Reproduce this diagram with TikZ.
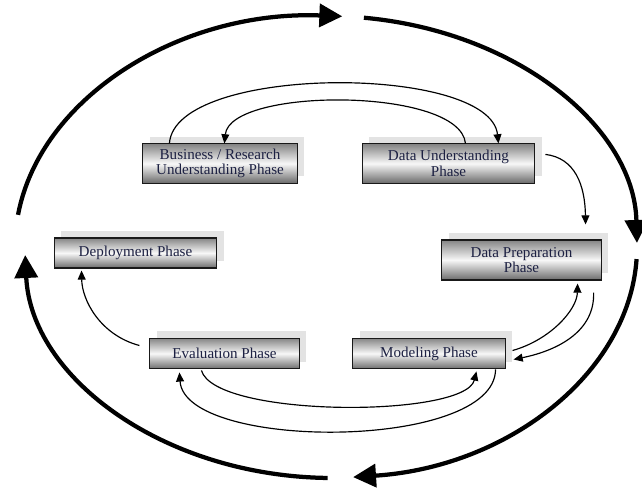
\documentclass[tikz,border=0pt]{standalone}
\usepackage{fontspec}
\setmainfont{Liberation Serif}
\usetikzlibrary{positioning,arrows.meta,calc,shadows}

\definecolor{phasetext}{RGB}{28,32,66}

\tikzset{
  phase/.style={draw=black!90, line width=0.7pt, top color=black!48, bottom color=black!58,
    middle color=black!3, text=phasetext, align=center, inner sep=0pt,
    font=\fontsize{10.3}{10.6}\selectfont,
    drop shadow={shadow xshift=0.17cm, shadow yshift=0.17cm, fill=black!11, opacity=1}},
  bigloop/.style={line width=2.9pt, -{Triangle[length=0.55cm,width=0.55cm]}},
  flow/.style={line width=0.8pt, -{Triangle[length=0.22cm,width=0.19cm]}}
}

\begin{document}
\begin{tikzpicture}[x=0.024cm, y=-0.024cm]
      \useasboundingbox (0,0) rectangle (642,491);
      \coordinate (hub) at (326,247);
      \coordinate (lowhub) at (333,247);
      % the six phases
      \draw (220,163.5) node[phase, minimum width=3.70cm, minimum height=0.94cm] (business) {Business / Research\\Understanding Phase};
      \draw (448.5,163.5) node[phase, minimum width=4.15cm, minimum height=0.94cm] (dataund) {Data Understanding\\Phase};
      \draw (135.5,253) node[phase, minimum width=3.91cm, minimum height=0.72cm] (deploy) {Deployment Phase};
      \draw (521.5,260) node[phase, minimum width=3.82cm, minimum height=0.96cm] (dataprep) {Data Preparation\\Phase};
      \draw (224.5,353.5) node[phase, minimum width=3.58cm, minimum height=0.74cm] (evaluation) {Evaluation Phase};
      \draw (429,353.5) node[phase, minimum width=3.65cm, minimum height=0.74cm] (modeling) {Modeling Phase};
      % outer cycle
      \draw[bigloop] ([shift={(-172:311 and 231)}]hub) arc[start angle=-172, end angle=-87, x radius=311, y radius=231];
      \draw[bigloop] ([shift={(-83:311 and 231)}]hub) arc[start angle=-83, end angle=-1, x radius=311, y radius=231];
      \draw[bigloop] ([shift={(3:311 and 231)}]hub) arc[start angle=3, end angle=85, x radius=311, y radius=231];
      \draw[bigloop] ([shift={(91:308 and 231)}]lowhub) arc[start angle=91, end angle=178, x radius=308, y radius=231];
      % inner arrows
      \draw[flow] ($(business.north west)+(27,0)$) .. controls (175,64) and (490,64) .. ($(dataund.north east)+(-37,0)$);
      \draw[flow] ($(dataund.north east)+(-70,0)$) .. controls (460,87) and (230,87) .. ($(business.north west)+(82,0)$);
      \draw[flow] ($(dataund.north east)+(10,11)$) .. controls (575,158) and (585,185) .. ($(dataprep.north east)+(-16,-15)$);
      \draw[flow] ($(modeling.east)+(7,-3)$) .. controls (550,340) and (577,310) .. ($(dataprep.south east)+(-24,3)$);
      \draw[flow] ($(dataprep.south east)+(-8,12)$) .. controls (595,330) and (560,350) .. ($(modeling.east)+(8,6)$);
      \draw[flow] ($(evaluation.south west)+(52,1)$) .. controls (215,418) and (465,418) .. ($(modeling.south west)+(124,2)$);
      \draw[flow] ($(modeling.south east)+(-10,0)$) .. controls (495,451) and (185,451) .. ($(evaluation.south west)+(30,3)$);
      \draw[flow] ($(evaluation.west)+(-10,-8)$) .. controls (100,335) and (82,300) .. ($(deploy.south west)+(28,2)$);
\end{tikzpicture}
\end{document}
